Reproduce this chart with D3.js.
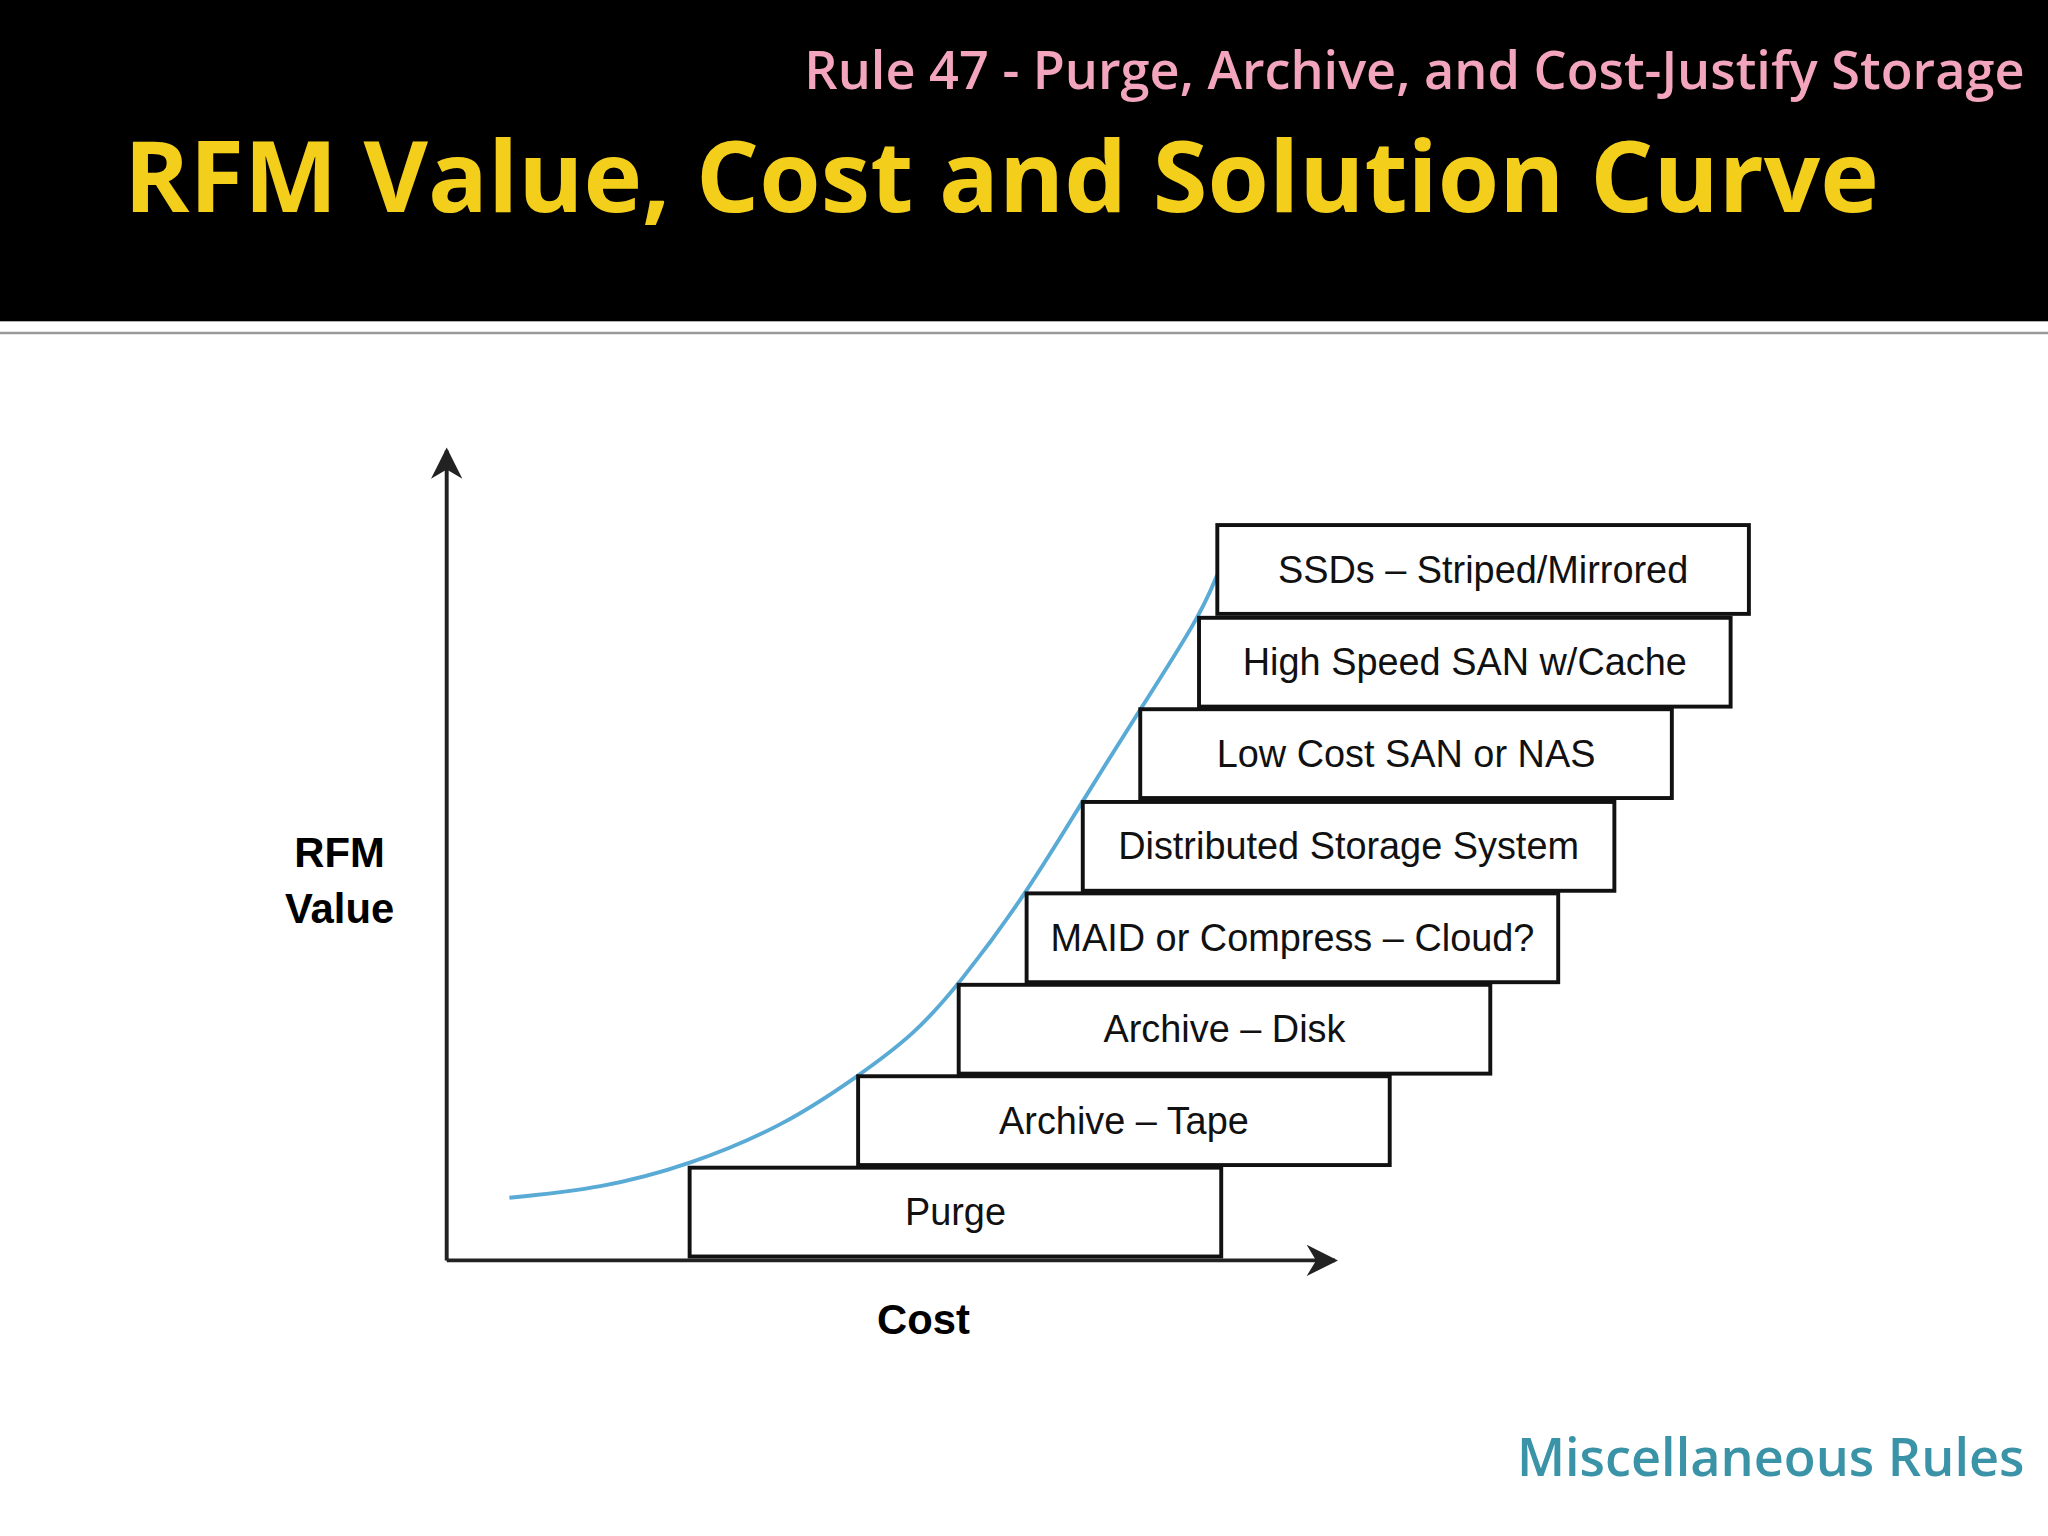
<!DOCTYPE html>
<html><head><meta charset="utf-8">
<script src="https://cdn.jsdelivr.net/npm/d3@7"></script>
<style>body{margin:0;background:#fff}</style>
</head><body>
<svg id="chart" width="2048" height="1536" viewBox="0 0 1568 1176"></svg>
<script>
// tiers, bottom to top; cost = left edge of box, value = bottom of box
var tiers = ["Purge", "Archive \u2013 Tape", "Archive \u2013 Disk", "MAID or Compress \u2013 Cloud?",
	"Distributed Storage System", "Low Cost SAN or NAS", "High Speed SAN w/Cache", "SSDs \u2013 Striped/Mirrored"];
var tierCost = [186, 315, 392, 444, 487, 531, 576, 590];
var tierValue = [3, 73, 143, 213, 283, 354, 424, 495];
// solution curve
var curveCost = [48, 118, 186, 258, 315, 358, 392, 444, 487, 531, 576, 590];
var curveValue = [48, 55, 73, 103, 141, 173, 211, 281, 352, 422, 492, 525];

var svg = d3.select("#chart");
var x = d3.scaleLinear().domain([0, 680]).range([342, 1022]);
var y = d3.scaleLinear().domain([0, 620]).range([965, 345]);
var boxW = 407, boxH = 68;

// header
svg.append("rect").attr("width", 1568).attr("height", 246).attr("fill", "#000");
svg.append("line").attr("x1", 0).attr("x2", 1568).attr("y1", 255).attr("y2", 255).attr("stroke", "#999").attr("stroke-width", 2);
svg.append("text").attr("x", 1550).attr("y", 68).attr("text-anchor", "end")
	.style("font", "600 40px 'Open Sans'").attr("fill", "#f2a5bd")
	.text("Rule 47 - Purge, Archive, and Cost-Justify Storage");
svg.append("text").attr("x", 95).attr("y", 162)
	.style("font", "bold 76px 'Open Sans'").attr("fill", "#f3cf1c")
	.text("RFM Value, Cost and Solution Curve");
svg.append("text").attr("x", 1550).attr("y", 1130).attr("text-anchor", "end")
	.style("font", "600 40px 'Open Sans'").attr("fill", "#3a93a6")
	.text("Miscellaneous Rules");

// arrow marker
svg.append("defs").append("marker").attr("id", "arr").attr("viewBox", "0 0 10 10")
	.attr("refX", 9).attr("refY", 5).attr("markerWidth", 8).attr("markerHeight", 8)
	.attr("markerUnits", "userSpaceOnUse").attr("orient", "auto")
	.attr("markerWidth", 28).attr("markerHeight", 24)
	.append("path").attr("d", "M0,0L10,5L0,10L3,5Z").attr("fill", "#222");

// axes
svg.append("line").attr("x1", x(0)).attr("y1", y(0)).attr("x2", x(0)).attr("y2", y(620))
	.attr("stroke", "#222").attr("stroke-width", 3).attr("marker-end", "url(#arr)");
svg.append("line").attr("x1", x(0)).attr("y1", y(0)).attr("x2", x(680)).attr("y2", y(0))
	.attr("stroke", "#222").attr("stroke-width", 3).attr("marker-end", "url(#arr)");

svg.append("text").attr("x", 260).attr("y", 664).attr("text-anchor", "middle")
	.style("font", "bold 32px 'Liberation Sans'").text("RFM");
svg.append("text").attr("x", 260).attr("y", 707).attr("text-anchor", "middle")
	.style("font", "bold 32px 'Liberation Sans'").text("Value");
svg.append("text").attr("x", 707).attr("y", 1021).attr("text-anchor", "middle")
	.style("font", "bold 32px 'Liberation Sans'").text("Cost");

// curve
var line = d3.line().x(function(d){ return x(d[0]); }).y(function(d){ return y(d[1]); }).curve(d3.curveBasis);
svg.append("path").datum(d3.zip(curveCost, curveValue)).attr("d", line)
	.attr("fill", "none").attr("stroke", "#5aaad6").attr("stroke-width", 3);

// boxes
var g = svg.selectAll("g.tier").data(tiers).enter().append("g").attr("class", "tier");
g.append("rect")
	.attr("x", function(d, i){ return x(tierCost[i]); })
	.attr("y", function(d, i){ return y(tierValue[i]) - boxH; })
	.attr("width", boxW).attr("height", boxH)
	.attr("fill", "#fff").attr("stroke", "#111").attr("stroke-width", 3);
g.append("text")
	.attr("x", function(d, i){ return x(tierCost[i]) + boxW / 2; })
	.attr("y", function(d, i){ return y(tierValue[i]) - boxH / 2 + 10; })
	.attr("text-anchor", "middle").style("font", "29px 'Liberation Sans'").attr("fill", "#111")
	.text(function(d){ return d; });
</script>
</body></html>
